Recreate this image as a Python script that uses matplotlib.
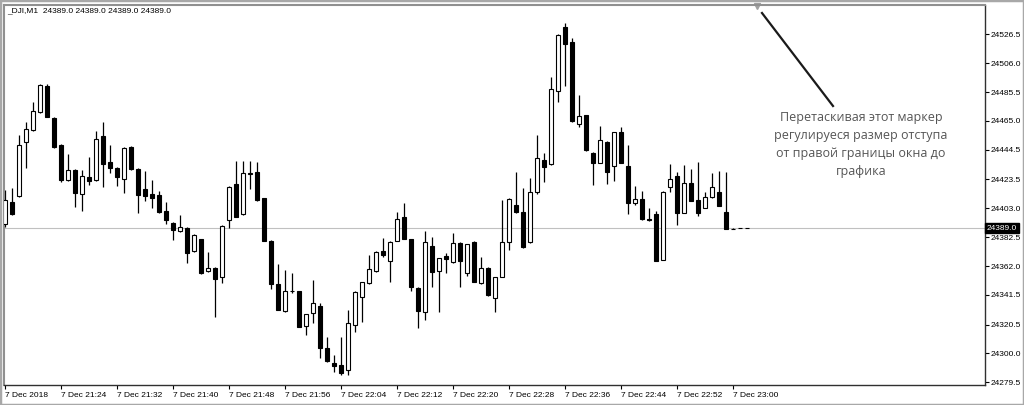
import numpy as np
import matplotlib.pyplot as plt
from matplotlib.patches import Rectangle
from matplotlib.transforms import blended_transform_factory

# one-minute candles of _DJI, 7 Dec 2018, starting 21:16
opens = [24392, 24407.5, 24411.5, 24450, 24458.5, 24471.5, 24490, 24467, 24448, 24423,
         24430, 24413, 24425, 24423, 24454.5, 24436, 24431.5, 24424, 24446.5, 24431,
         24416.5, 24413, 24412.5, 24401, 24392.5, 24387, 24389, 24372.5, 24381, 24358.5,
         24360.5, 24354, 24394.5, 24420, 24399, 24427.5, 24429, 24410, 24380, 24349.5,
         24330, 24344.5, 24344, 24319.5, 24328.5, 24333.5, 24304, 24293, 24291.5, 24288,
         24320, 24340, 24350, 24358.5, 24372.5, 24365.5, 24380, 24397, 24381, 24346.5,
         24329.5, 24376.5, 24358.5, 24369, 24365, 24378.5, 24357, 24379, 24350, 24360.5,
         24339.5, 24354, 24379, 24405.5, 24400.5, 24379, 24414.5, 24437.5, 24434.5, 24486.5,
         24531.5, 24521, 24463, 24469, 24442.5, 24435, 24450, 24433, 24457, 24433,
         24407, 24409.5, 24395.5, 24399, 24366, 24418, 24426, 24399.5, 24421, 24409,
         24403, 24411, 24414.5, 24400.5, 24388.5, 24389, 24389]
highs = [24416, 24417.5, 24455, 24464, 24478.5, 24491, 24491.5, 24467.5, 24449, 24441.5,
         24431, 24430, 24439.5, 24458, 24464.5, 24448, 24432, 24446.5, 24447, 24431.5,
         24429.5, 24423, 24415.5, 24407.5, 24393, 24398.5, 24389.5, 24384.5, 24381.5, 24372,
         24361, 24391, 24418.5, 24436.5, 24436.5, 24436.5, 24436, 24410.5, 24380.5, 24363.5,
         24359, 24357, 24344.5, 24328, 24352, 24336, 24311.5, 24299, 24311.5, 24331,
         24344, 24351, 24370, 24372.5, 24382, 24379.5, 24400.5, 24407, 24381.5, 24347,
         24387, 24382.5, 24368, 24371.5, 24385.5, 24379, 24378, 24379.5, 24368.5, 24361,
         24354.5, 24409, 24410, 24429, 24417.5, 24424.5, 24455, 24442.5, 24496, 24526.5,
         24534.5, 24524, 24483.5, 24469.5, 24443, 24461.5, 24450.5, 24457.5, 24460.5, 24448,
         24419, 24415.5, 24403, 24401, 24415, 24434.5, 24429, 24434, 24431, 24436,
         24414.5, 24428, 24429.5, 24429, 24389, 24389, 24389]
lows = [24389.5, 24398.5, 24411, 24431.5, 24458, 24471, 24467.5, 24446, 24421.5, 24422.5,
        24404, 24401, 24419.5, 24422.5, 24418, 24428, 24419, 24414, 24430.5, 24399.5,
        24408, 24403, 24400, 24392, 24380.5, 24386.5, 24364, 24372, 24356.5, 24358,
        24326, 24350, 24389, 24396.5, 24398.5, 24416.5, 24408.5, 24379.5, 24345.5, 24330.5,
        24329.5, 24343, 24318.5, 24313, 24321.5, 24296.5, 24294, 24287, 24284.5, 24284.5,
        24315, 24322.5, 24349.5, 24358, 24368.5, 24350.5, 24379.5, 24381, 24344.5, 24318,
        24323.5, 24347, 24329.5, 24357, 24364.5, 24347, 24355, 24350.5, 24349.5, 24341,
        24329.5, 24354, 24373.5, 24400, 24375, 24378.5, 24413, 24421.5, 24434, 24478.5,
        24490, 24464.5, 24460.5, 24444, 24419.5, 24435, 24420.5, 24422.5, 24435, 24399,
        24405.5, 24395, 24394, 24365.5, 24366, 24414.5, 24391, 24399.5, 24408, 24397.5,
        24403, 24410.5, 24404.5, 24388, 24388, 24389, 24389]
closes = [24409, 24399, 24448, 24459.5, 24472, 24490.5, 24468, 24446.5, 24423, 24430,
          24414, 24426, 24422.5, 24452, 24434.5, 24431.5, 24425, 24446, 24431, 24412.5,
          24411.5, 24410.5, 24400.5, 24395, 24387.5, 24389.5, 24371, 24384, 24357, 24360.5,
          24353, 24390.5, 24418, 24397, 24428, 24428, 24409, 24380, 24349.5, 24331,
          24344.5, 24344, 24318.5, 24328, 24336, 24304, 24294.5, 24291, 24286, 24321.5,
          24343.5, 24350.5, 24360, 24372, 24370, 24379, 24395.5, 24381, 24347, 24330,
          24379, 24358, 24367.5, 24367, 24378.5, 24365.5, 24377.5, 24350.5, 24360.5, 24341.5,
          24354, 24379, 24409.5, 24400.5, 24375.5, 24414.5, 24438.5, 24432.5, 24487.5, 24526,
          24519.5, 24465, 24468.5, 24444.5, 24435, 24451.5, 24429, 24457, 24435, 24407,
          24409.5, 24395.5, 24395, 24365.5, 24414.5, 24424, 24399.5, 24421, 24408, 24399.5,
          24411, 24418, 24404.5, 24388.5, 24388.5, 24389, 24389]

time_labels = ['7 Dec 2018', '7 Dec 21:24', '7 Dec 21:32', '7 Dec 21:40', '7 Dec 21:48',
               '7 Dec 21:56', '7 Dec 22:04', '7 Dec 22:12', '7 Dec 22:20', '7 Dec 22:28',
               '7 Dec 22:36', '7 Dec 22:44', '7 Dec 22:52', '7 Dec 23:00']
price_ticks = [24526.5, 24506.0, 24485.5, 24465.0, 24444.5, 24423.5, 24403.0,
               24382.5, 24362.0, 24341.5, 24320.5, 24300.0, 24279.5]
last_price = 24389.0

W, H = 1024, 405
fig = plt.figure(figsize=(W / 100, H / 100), dpi=100)
fig.patch.set_facecolor('white')
ax = fig.add_axes([4 / W, 1 - 385 / H, 981 / W, 380 / H])

o = np.array(opens)
h = np.array(highs)
l = np.array(lows)
c = np.array(closes)
x = np.arange(len(o))
up = c >= o

ax.axhline(last_price, color='#c0c0c0', lw=0.8, zorder=0)
ax.vlines(x, l, h, color='black', lw=0.9, zorder=2)
ax.bar(x, np.abs(c - o), bottom=np.minimum(o, c), width=0.65,
       color=np.where(up, 'white', 'black'), edgecolor='black', lw=0.8, zorder=3)

ax.set_xlim(-0.15, 140)
ax.set_ylim(24277.6, 24547.3)

ax.set_xticks(x[::8][:len(time_labels)])
ax.set_xticklabels(time_labels, ha='left', fontsize=6, family='Liberation Sans')
ax.tick_params(axis='x', length=3, pad=2, width=0.8)
ax.yaxis.tick_right()
ax.set_yticks(price_ticks)
ax.set_yticklabels(['%.1f' % v for v in price_ticks], fontsize=6, family='Liberation Sans')
ax.tick_params(axis='y', length=3, pad=1, width=0.8)

for s in ['left', 'top']:
    ax.spines[s].set_color('#909090')
    ax.spines[s].set_linewidth(1.5)
for s in ['right', 'bottom']:
    ax.spines[s].set_color('#303030')
    ax.spines[s].set_linewidth(1.0)

trans = blended_transform_factory(ax.transAxes, ax.transData)
ax.text(1.002, last_price, '%.1f' % last_price, transform=trans, ha='left', va='center',
        fontsize=6, family='Liberation Sans', color='white', zorder=5,
        bbox=dict(boxstyle='square,pad=0.2', fc='black', ec='black'))

fig.text(7 / W, 1 - 11 / H, '_DJI,M1  24389.0 24389.0 24389.0 24389.0',
         fontsize=6, family='Liberation Sans', va='center')

# chart-shift marker and the explanation
ax.plot([757 / W], [1 - 6 / H], marker='v', ms=5, color='#a0a0a0',
        transform=fig.transFigure, clip_on=False)
ax.plot([762 / W, 833 / W], [1 - 13 / H, 1 - 106 / H], color='#1a1a1a', lw=1.6,
        transform=fig.transFigure, clip_on=False)
fig.text(861 / W, 1 - 145 / H,
         'Перетаскивая этот маркер\nрегулируеся размер отступа\nот правой границы окна до\nграфика',
         ha='center', va='center', fontsize=9, linespacing=1.5, color='#555555',
         family='Open Sans')

fig.patches.append(Rectangle((0, 0), 1, 1, transform=fig.transFigure, fill=False,
                             edgecolor='#a8a8a8', lw=2.5))

fig.savefig('out.png', dpi=100)
